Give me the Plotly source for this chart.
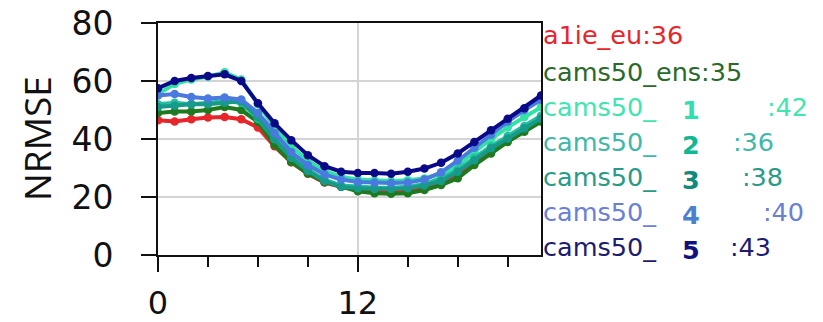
import plotly.graph_objects as go

hours = list(range(24))

a1ie_eu = [46.5, 46.0, 46.8, 47.4, 47.6, 46.8, 44.0, 37.5, 32.0, 28.0, 25.0, 23.5, 22.5, 22.0, 22.0, 22.2, 23.0, 25.0, 28.0, 32.0, 36.0, 40.0, 43.5, 47.0]
cams50_ens = [49.0, 49.5, 49.5, 50.0, 51.0, 50.0, 45.9, 37.9, 32.1, 28.1, 25.2, 23.5, 22.0, 21.3, 21.1, 21.3, 22.4, 24.1, 26.5, 31.0, 35.0, 39.0, 42.5, 46.0]
cams50_1 = [55.5, 59.0, 60.5, 61.5, 63.0, 60.5, 52.0, 44.0, 37.5, 32.5, 29.0, 27.0, 26.0, 25.8, 25.5, 25.8, 26.4, 28.0, 31.0, 35.5, 40.0, 44.0, 47.6, 51.0]
cams50_2 = [52.0, 52.5, 52.0, 52.5, 53.0, 52.5, 47.0, 40.0, 34.0, 29.5, 26.0, 24.0, 23.5, 23.3, 23.2, 23.5, 24.5, 26.5, 29.5, 33.5, 37.5, 41.0, 44.5, 48.0]
cams50_3 = [51.0, 51.5, 52.0, 52.0, 52.5, 53.0, 47.5, 40.0, 33.5, 29.0, 25.5, 23.5, 23.0, 22.8, 22.8, 23.0, 24.0, 25.5, 28.7, 32.7, 36.8, 40.2, 43.7, 47.1]
cams50_4 = [55.0, 55.5, 54.5, 54.0, 54.3, 53.6, 49.0, 42.0, 35.5, 31.0, 27.8, 26.0, 25.2, 25.0, 24.8, 25.0, 26.0, 28.5, 32.5, 37.0, 41.5, 46.0, 50.0, 53.5]
cams50_5 = [57.5, 60.0, 61.0, 61.7, 62.3, 60.0, 52.3, 45.4, 39.6, 34.4, 30.6, 28.7, 28.3, 28.3, 28.0, 28.7, 29.8, 31.8, 35.0, 39.0, 43.0, 47.0, 50.6, 55.0]

series_names = ["a1ie_eu", "cams50_ens", "cams50_1", "cams50_2", "cams50_3", "cams50_4", "cams50_5"]
series_values = [a1ie_eu, cams50_ens, cams50_1, cams50_2, cams50_3, cams50_4, cams50_5]
series_colors = ["#e8262a", "#1f7a1f", "#2ee3a3", "#22bfa0", "#179a8a", "#4a7ae0", "#0a0a88"]

scores = ["36", "35", "42", "36", "38", "40", "43"]
member_digits = ["1", "2", "3", "4", "5"]
label_colors = ["#e8262a", "#2a6a2a", "#40e6b0", "#40b8a8", "#2a9a88", "#6a80d4", "#1c1c70"]
digit_colors = ["#2ee0b0", "#12b894", "#108a7a", "#4a80d0", "#10107e"]
score_x_px = [767, 733, 742, 763, 730]

# target pixel positions of the plot frame; OFF compensates the page's body margin
OFF = 8
XL, XR, YT, YB = 158, 541, 23, 255
W, H = 823, 322

fig = go.Figure()
for name, vals, col in zip(series_names, series_values, series_colors):
    fig.add_trace(go.Scatter(
        x=hours, y=vals, mode="lines+markers", name=name,
        line=dict(color=col, width=4),
        marker=dict(color=col, size=8.5, symbol="circle"),
        showlegend=False,
    ))

def px_x(p):
    return (p - XL) / (XR - XL)

def px_y(p):
    return (YB - p) / (YB - YT)

row_y = [35, 72, 107, 142, 177, 212, 247]
lf = dict(family="DejaVu Sans", size=25.5)
annotations = []
annotations.append(dict(text="a1ie_eu:" + scores[0], x=px_x(541), y=px_y(row_y[0]),
                        xanchor="left", yanchor="middle", font=dict(color=label_colors[0], **lf)))
annotations.append(dict(text="cams50_ens:" + scores[1], x=px_x(541), y=px_y(row_y[1]),
                        xanchor="left", yanchor="middle", font=dict(color=label_colors[1], **lf)))
for i, d in enumerate(member_digits):
    ry = row_y[i + 2]
    annotations.append(dict(text="cams50_", x=px_x(541), y=px_y(ry),
                            xanchor="left", yanchor="middle", font=dict(color=label_colors[i + 2], **lf)))
    annotations.append(dict(text="<b>" + d + "</b>", x=px_x(680), y=px_y(ry + 3),
                            xanchor="left", yanchor="middle", font=dict(color=digit_colors[i], **lf)))
    annotations.append(dict(text=":" + scores[i + 2], x=px_x(score_x_px[i] - 2), y=px_y(ry),
                            xanchor="left", yanchor="middle", font=dict(color=label_colors[i + 2], **lf)))
annotations.append(dict(text="NRMSE", x=px_x(36), y=px_y(139), textangle=-90,
                        xanchor="center", yanchor="middle",
                        font=dict(family="Open Sans", size=37, color="#111111")))
for a in annotations:
    a.update(xref="paper", yref="paper", showarrow=False)

fig.update_layout(
    width=W, height=H,
    margin=dict(l=XL - OFF, r=W - (XR - OFF), t=YT - OFF, b=H - (YB - OFF), pad=0, autoexpand=False),
    paper_bgcolor="white", plot_bgcolor="white",
    annotations=annotations,
    font=dict(family="DejaVu Sans", color="#111111"),
)
fig.update_xaxes(
    range=[0, 23], tickvals=[0, 12], ticktext=["0", "12"], automargin=False,
    ticks="outside", ticklen=15, tickwidth=2, tickcolor="#111111",
    minor=dict(tickvals=[3, 6, 9, 15, 18, 21], ticks="outside", ticklen=10, tickwidth=2, tickcolor="#111111", showgrid=False),
    showgrid=True, gridcolor="#d4d4d4", gridwidth=1.5,
    showline=True, linecolor="#111111", linewidth=2, mirror=True,
    tickfont=dict(family="DejaVu Sans", size=32, color="#111111"),
    ticklabelstandoff=4, ticklabeloverflow="allow", zeroline=False,
)
fig.update_yaxes(
    range=[0, 80], tickvals=[0, 20, 40, 60, 80], automargin=False,
    ticks="outside", ticklen=15, tickwidth=2, tickcolor="#111111",
    showgrid=True, gridcolor="#d4d4d4", gridwidth=1.5,
    showline=True, linecolor="#111111", linewidth=2, mirror=True,
    tickfont=dict(family="DejaVu Sans", size=33, color="#111111"),
    ticklabelstandoff=21, ticklabeloverflow="allow", zeroline=False,
)
fig.write_html("out.html")
